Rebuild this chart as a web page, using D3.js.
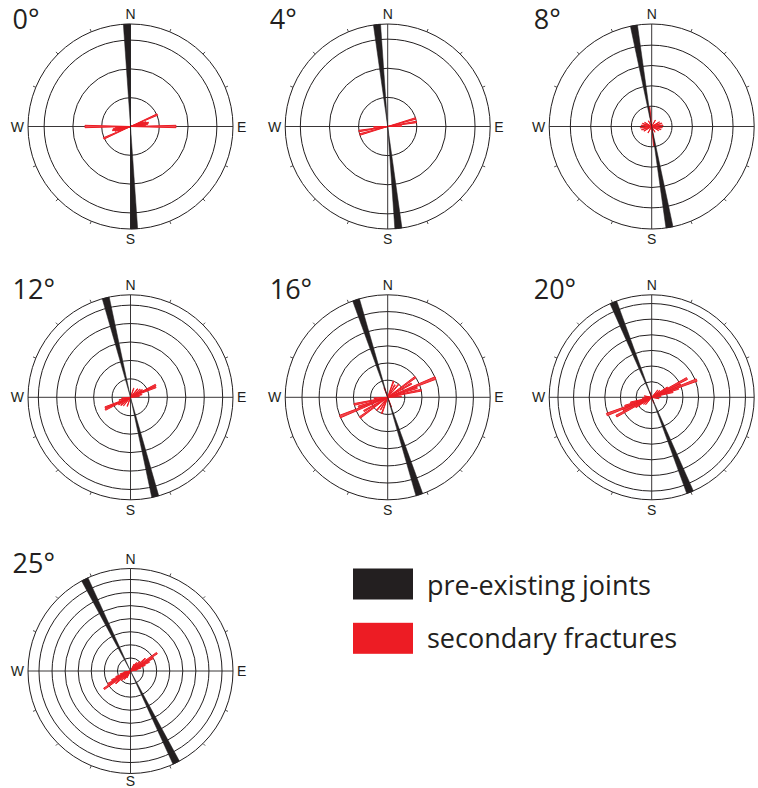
<!DOCTYPE html>
<html>
<head>
<meta charset="utf-8">
<script src="https://cdn.jsdelivr.net/npm/d3@7"></script>
<style>
  body { margin: 0; background: #fff; }
  svg { display: block; }
</style>
</head>
<body>
<script>
// Rotation stage of each rose diagram
const panelLabels = ["0°", "4°", "8°", "12°", "16°", "20°", "25°"];

// Pre-existing joint set: azimuth of the petal centre (deg) and its frequency (%)
const jointAzimuth = [358, 354, 350, 346, 342, 338, 333.5];
const jointValue = [17.8, 17.6, 25.2, 27.8, 29.9, 32.8, 39.2];

// Frequency circles are drawn every 5 %
const ringStep = 5;

// Secondary fractures: [azimuth of petal centre (deg), frequency (%)], axial data
const fractures0 = [[90, 7.9], [66, 5.1], [70, 2.2], [74, 2.8], [78, 3.2], [82, 3.0], [86, 2.6]];
const fractures4 = [[74, 5.0], [81, 5.0], [88, 2.4]];
const fractures8 = [[353, 4.8], [60, 2.2], [72, 2.6], [84, 2.8], [96, 2.6], [108, 2.4], [120, 2.0], [30, 1.8], [150, 1.6]];
const fractures12 = [[64, 7.6], [68, 7.4], [20, 2.6], [40, 3.0], [50, 3.4], [58, 3.8], [76, 3.2], [84, 2.4]];
const fractures16 = [[68, 15.0], [54, 10.0], [60, 8.0], [72, 9.0], [78, 10.0], [20, 5.0], [30, 4.2], [40, 5.0], [86, 4.0], [160, 3.0]];
const fractures20 = [[69, 15.4], [62, 12.8], [66, 10.0], [72, 9.0], [76, 7.0], [58, 6.0], [40, 3.0], [50, 3.4], [84, 3.0], [100, 2.4], [160, 2.0]];
const fractures25 = [[56, 12.2], [60, 10.0], [64, 8.0], [50, 7.4], [68, 6.0], [44, 5.0], [36, 4.0], [74, 4.0], [28, 3.0], [80, 2.6]];

const fractureSets = [fractures0, fractures4, fractures8, fractures12, fractures16, fractures20, fractures25];

// Legend entries
const legendLabels = ["pre-existing joints", "secondary fractures"];

// ---------------------------------------------------------------------------
const W = 758, H = 788;
const R = 102.5;          // outer circle radius
const jointWidth = 4;     // joint petal width (deg)
const fracWidth = 3;      // fracture petal width (deg)
const INK = "#231f20";
const RED = "#ed1c24";
const colX = [130.5, 387.7, 651.7];
const rowY = [126.5, 397.3, 671];

const svg = d3.select("body").append("svg")
  .attr("width", W).attr("height", H)
  .attr("viewBox", `0 0 ${W} ${H}`);

svg.append("rect").attr("width", W).attr("height", H).attr("fill", "#fff");

const rad = d => d * Math.PI / 180;

panelLabels.forEach((label, i) => {
  const cx = colX[i % 3], cy = rowY[Math.floor(i / 3)];
  const g = svg.append("g").attr("transform", `translate(${cx},${cy})`);
  const r = d3.scaleLinear().domain([0, jointValue[i]]).range([0, R]);

  // frequency circles
  const rings = d3.range(ringStep, jointValue[i] - 0.5, ringStep);
  g.selectAll("circle.ring").data(rings).join("circle")
    .attr("class", "ring").attr("r", d => r(d))
    .attr("fill", "none").attr("stroke", INK).attr("stroke-width", 1);
  g.append("circle").attr("r", R)
    .attr("fill", "none").attr("stroke", INK).attr("stroke-width", 1);

  // N-S and E-W axes
  g.append("line").attr("x1", -R).attr("x2", R).attr("y1", 0).attr("y2", 0)
    .attr("stroke", INK).attr("stroke-width", 0.9);
  g.append("line").attr("y1", -R).attr("y2", R).attr("x1", 0).attr("x2", 0)
    .attr("stroke", INK).attr("stroke-width", 0.9);

  // ticks every 22.5 deg on the outer circle
  const ticks = d3.range(0, 360, 22.5).filter(a => a % 90 !== 0);
  g.selectAll("line.tick").data(ticks).join("line")
    .attr("class", "tick")
    .attr("x1", a => R * Math.sin(rad(a))).attr("y1", a => -R * Math.cos(rad(a)))
    .attr("x2", a => (R + 3) * Math.sin(rad(a))).attr("y2", a => -(R + 3) * Math.cos(rad(a)))
    .attr("stroke", INK).attr("stroke-width", 0.8);

  // petal generator (d3.arc: 0 rad at north, clockwise)
  const arc = d3.arc().innerRadius(0);
  const petal = (az, v, w) => arc({
    outerRadius: r(v),
    startAngle: rad(az - w / 2),
    endAngle: rad(az + w / 2)
  });

  // secondary fractures, both ends of each axis
  const fr = fractureSets[i].flatMap(([az, v]) => [[az, v], [az + 180, v]])
    .sort((a, b) => b[1] - a[1]);
  g.selectAll("path.frac").data(fr).join("path")
    .attr("class", "frac")
    .attr("d", d => petal(d[0], d[1], fracWidth))
    .attr("fill", "#f04a50").attr("stroke", RED).attr("stroke-width", 1)
    .attr("stroke-linejoin", "miter");

  // pre-existing joints
  g.selectAll("path.joint").data([jointAzimuth[i], jointAzimuth[i] - 180]).join("path")
    .attr("class", "joint")
    .attr("d", az => petal(az, jointValue[i], jointWidth))
    .attr("fill", INK).attr("stroke", INK).attr("stroke-width", 0.5);

  // compass letters (those falling past the page edge are left out)
  const letters = [
    { t: "N", x: 0, y: -R - 5, a: "middle" },
    { t: "S", x: 0, y: Math.min(R + 15, H - 2 - cy), a: "middle" },
    { t: "W", x: -R - 4, y: 5, a: "end" },
    { t: "E", x: R + 4, y: 5, a: "start" }
  ].filter(l => cx + l.x + 10 < W);
  letters.forEach(l => {
    g.append("text").attr("x", l.x).attr("y", l.y)
      .attr("text-anchor", l.a)
      .attr("font-family", "Liberation Sans, Arial, sans-serif").attr("font-size", 14)
      .attr("fill", INK).text(l.t);
  });

  // panel title
  svg.append("text")
    .attr("x", cx - 118).attr("y", cy - 98)
    .attr("font-family", "Open Sans, Lato, sans-serif")
    .attr("font-size", 27).attr("fill", INK)
    .text(label);
});

// legend
const legendColors = [INK, RED];
const lg = svg.append("g");
legendLabels.forEach((t, k) => {
  lg.append("rect").attr("x", 353).attr("y", 568.5 + k * 54.3)
    .attr("width", 60).attr("height", 31).attr("fill", legendColors[k]);
  lg.append("text").attr("x", 427).attr("y", 595 + k * 53.3)
    .attr("font-family", "Open Sans, Lato, sans-serif")
    .attr("font-size", 27).attr("fill", INK)
    .text(t);
});
</script>
</body>
</html>
